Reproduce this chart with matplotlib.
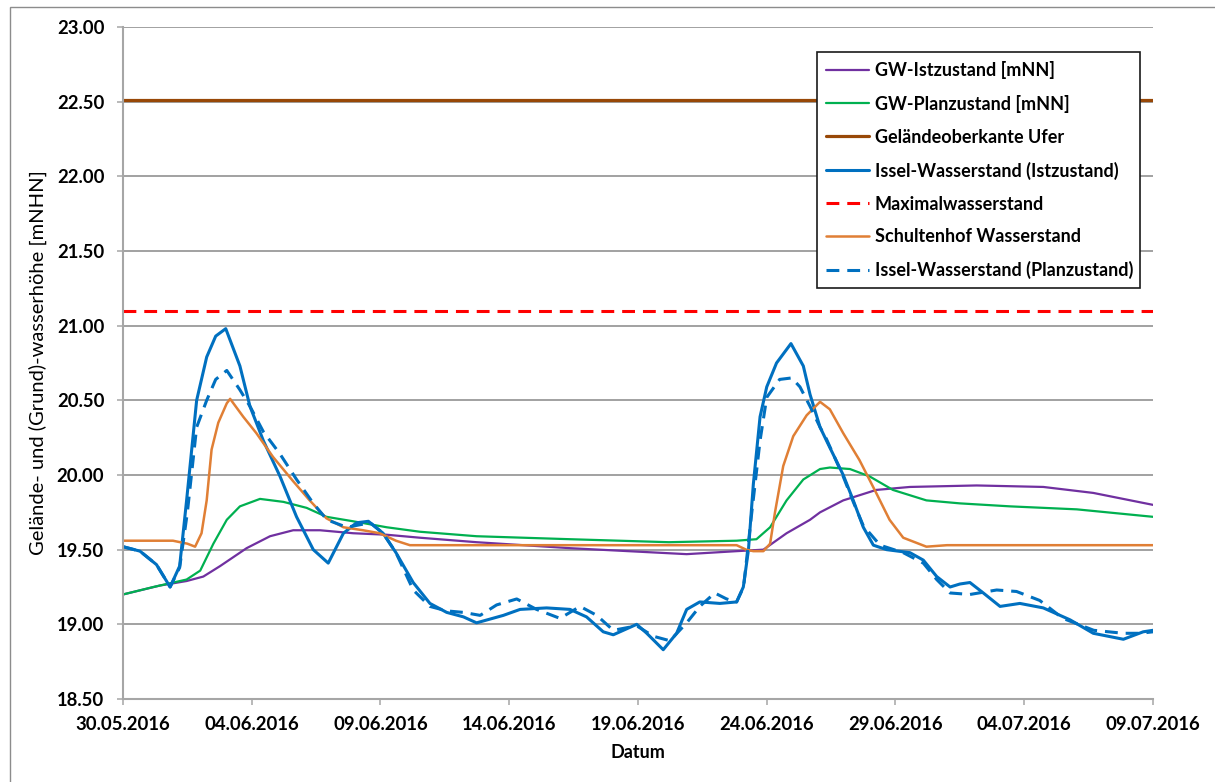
import matplotlib
matplotlib.use("Agg")
import matplotlib.pyplot as plt
import matplotlib.dates as mdates
import matplotlib.patches as mpatches
import numpy as np
import pandas as pd

plt.rcParams['font.family'] = ['Lato', 'DejaVu Sans']
plt.rcParams['lines.solid_joinstyle'] = 'round'
plt.rcParams['lines.dash_joinstyle'] = 'round'
plt.rcParams['lines.solid_capstyle'] = 'round'

START = pd.Timestamp("2016-05-30")

# ---- data (day offsets from 30.05.2016, water levels in mNHN) ----
gw_ist_days = [0, 1.44, 2.47, 3.12, 3.77, 4.8, 5.71, 6.61, 7.65, 8.94, 10.24, 11.53, 13.73,
               17.36, 21.89, 23.83, 24.87, 25.77, 26.68, 27.07, 27.97, 29.25, 30.56, 33.15,
               35.74, 37.68, 40]
gw_ist_vals = [19.20, 19.26, 19.29, 19.32, 19.39, 19.51, 19.59, 19.63, 19.63, 19.61, 19.60, 19.58,
               19.55, 19.51, 19.47, 19.49, 19.50, 19.61, 19.70, 19.75, 19.83, 19.90, 19.92, 19.93,
               19.92, 19.88, 19.80]

gw_plan_days = [0, 1.18, 2.47, 3.0, 3.51, 4.03, 4.54, 5.32, 6.23, 7.13, 7.9, 8.94, 10.24, 11.53,
                13.73, 17.36, 21.2, 23.83, 24.6, 25.13, 25.77, 26.42, 27.07, 27.45, 28.23, 29.0,
                29.9, 31.2, 32.5, 34.45, 37.04, 40]
gw_plan_vals = [19.20, 19.25, 19.30, 19.36, 19.54, 19.70, 19.79, 19.84, 19.82, 19.78, 19.72, 19.69,
                19.65, 19.62, 19.59, 19.57, 19.55, 19.56, 19.57, 19.65, 19.83, 19.97, 20.04, 20.05,
                20.04, 19.99, 19.90, 19.83, 19.81, 19.79, 19.77, 19.72]

gelaende_days = [0, 40]
gelaende_vals = [22.51, 22.51]

issel_ist_days = [0, 0.66, 1.3, 1.83, 2.2, 2.47, 2.86, 3.25, 3.6, 3.99, 4.54, 4.93, 5.45, 6.1,
                  6.74, 7.39, 7.97, 8.56, 9.07, 9.53, 10.1, 10.6, 11.27, 11.92, 12.57, 13.22,
                  13.73, 14.77, 15.42, 16.45, 17.36, 18.0, 18.65, 19.04, 19.56, 19.95, 20.34,
                  20.98, 21.5, 21.89, 22.4, 23.18, 23.83, 24.09, 24.29, 24.48, 24.74, 25.0,
                  25.38, 25.94, 26.42, 26.68, 27.07, 27.32, 27.97, 28.36, 28.75, 29.14, 29.66,
                  30.56, 31.08, 31.6, 32.12, 32.5, 32.89, 33.41, 34.06, 34.83, 35.74, 36.78,
                  37.68, 38.85, 39.62, 40]
issel_ist_vals = [19.52, 19.49, 19.40, 19.25, 19.39, 19.83, 20.50, 20.79, 20.93, 20.98, 20.73,
                  20.46, 20.23, 19.99, 19.72, 19.50, 19.41, 19.61, 19.68, 19.69, 19.61, 19.48,
                  19.28, 19.14, 19.08, 19.05, 19.01, 19.06, 19.10, 19.11, 19.10, 19.05, 18.95,
                  18.93, 18.97, 19.00, 18.94, 18.83, 18.94, 19.10, 19.15, 19.14, 19.15, 19.25,
                  19.50, 19.94, 20.39, 20.59, 20.75, 20.88, 20.73, 20.54, 20.32, 20.23, 20.00,
                  19.83, 19.65, 19.53, 19.50, 19.48, 19.43, 19.32, 19.25, 19.27, 19.28, 19.21,
                  19.12, 19.14, 19.11, 19.03, 18.94, 18.90, 18.95, 18.96]

max_days = [0, 40]
max_vals = [21.10, 21.10]

schulten_days = [0, 1.94, 2.5, 2.8, 3.05, 3.25, 3.44, 3.7, 4.03, 4.16, 4.67, 5.18, 5.83, 6.6,
                 7.25, 7.9, 8.56, 9.32, 9.97, 10.6, 11.14, 12, 23.83, 24.2, 24.48, 24.87, 25.13,
                 25.32, 25.64, 26.03, 26.55, 27.07, 27.45, 27.97, 28.6, 29.25, 29.77, 30.3,
                 31.2, 32, 40]
schulten_vals = [19.56, 19.56, 19.54, 19.52, 19.61, 19.83, 20.17, 20.35, 20.48, 20.51, 20.39,
                 20.28, 20.12, 19.96, 19.83, 19.71, 19.65, 19.63, 19.61, 19.56, 19.53, 19.53,
                 19.53, 19.50, 19.49, 19.49, 19.54, 19.75, 20.06, 20.26, 20.40, 20.49, 20.44,
                 20.28, 20.10, 19.88, 19.70, 19.58, 19.52, 19.53, 19.53]

issel_plan_days = [0, 0.66, 1.3, 1.83, 2.2, 2.5, 2.86, 3.25, 3.6, 4.03, 4.54, 4.93, 5.45, 6.1,
                   6.74, 7.39, 7.92, 8.69, 9.6, 10.1, 10.6, 11.27, 11.92, 12.57, 13.22, 13.87,
                   14.51, 15.29, 16.06, 16.97, 17.75, 18.4, 19.04, 19.95, 20.6, 21.24, 21.89,
                   22.4, 22.98, 23.44, 23.83, 24.1, 24.4, 24.74, 25.0, 25.5, 25.97, 26.29,
                   26.68, 27.07, 27.32, 27.97, 28.36, 28.75, 29.4, 30.3, 31.08, 31.6, 32.12,
                   32.89, 33.93, 34.7, 35.6, 36.5, 37.7, 38.85, 39.5, 40]
issel_plan_vals = [19.52, 19.49, 19.40, 19.25, 19.38, 19.75, 20.32, 20.50, 20.64, 20.70, 20.57,
                   20.46, 20.29, 20.14, 19.97, 19.81, 19.70, 19.65, 19.68, 19.61, 19.48, 19.23,
                   19.12, 19.09, 19.08, 19.06, 19.13, 19.17, 19.10, 19.04, 19.12, 19.06, 18.96,
                   18.99, 18.92, 18.89, 19.01, 19.12, 19.21, 19.17, 19.15, 19.25, 19.72, 20.23,
                   20.52, 20.64, 20.65, 20.59, 20.46, 20.32, 20.24, 19.99, 19.82, 19.66, 19.53,
                   19.48, 19.41, 19.30, 19.21, 19.20, 19.23, 19.22, 19.16, 19.04, 18.96, 18.94,
                   18.94, 18.95]

labels = ["GW-Istzustand [mNN]", "GW-Planzustand [mNN]", "Geländeoberkante Ufer",
          "Issel-Wasserstand (Istzustand)", "Maximalwasserstand", "Schultenhof Wasserstand",
          "Issel-Wasserstand (Planzustand)"]

y_ticks = [18.5, 19.0, 19.5, 20.0, 20.5, 21.0, 21.5, 22.0, 22.5, 23.0]


def to_dates(days):
    return START + pd.to_timedelta(np.asarray(days, dtype=float), unit="D")


fig = plt.figure(figsize=(12.15, 7.82), dpi=100)
ax = fig.add_axes([123 / 1215, 1 - 699 / 782, (1153 - 123) / 1215, (699 - 27) / 782])

ax.plot(to_dates(gw_ist_days), gw_ist_vals, color="#7030A0", lw=1.6, label=labels[0])
ax.plot(to_dates(gw_plan_days), gw_plan_vals, color="#00B050", lw=1.6, label=labels[1])
ax.plot(to_dates(gelaende_days), gelaende_vals, color="#984807", lw=2.3, label=labels[2])
ax.plot(to_dates(issel_ist_days), issel_ist_vals, color="#0070C0", lw=2.2, label=labels[3])
ax.plot(to_dates(max_days), max_vals, color="#FF0000", lw=2.2, ls=(0, (4.2, 2.6)), label=labels[4])
ax.plot(to_dates(schulten_days), schulten_vals, color="#E07F35", lw=1.8, label=labels[5])
ax.plot(to_dates(issel_plan_days), issel_plan_vals, color="#0070C0", lw=2.2, ls=(0, (4.2, 2.6)),
        label=labels[6])

ax.set_xlim(to_dates([0])[0], to_dates([40])[0])
ax.set_ylim(18.5, 23.0)
ax.set_yticks(y_ticks)
ax.yaxis.set_major_formatter(matplotlib.ticker.FormatStrFormatter("%.2f"))
ax.set_xticks(to_dates(np.arange(0, 41, 5)))
ax.xaxis.set_major_formatter(mdates.DateFormatter("%d.%m.%Y"))

ax.grid(axis="y", color="#878787", lw=1.1)
ax.set_axisbelow(True)
for s in ["top", "right"]:
    ax.spines[s].set_visible(False)
for s in ["left", "bottom"]:
    ax.spines[s].set_color("#A6A6A6")
    ax.spines[s].set_linewidth(1.5)

ax.tick_params(axis="both", colors="#A6A6A6", length=4.5, width=1.1, labelcolor="black",
               labelsize=13.3)
ax.tick_params(axis="y", pad=9)
ax.tick_params(axis="x", pad=8)
for t in ax.get_xticklabels() + ax.get_yticklabels():
    t.set_fontweight("bold")

ax.set_xlabel("Datum", fontsize=13, fontweight="bold", labelpad=8)
ax.set_ylabel("Gelände- und (Grund)-wasserhöhe [mNHN]", fontsize=14.5)
ax.yaxis.set_label_coords(-0.074, 0.5)

leg = ax.legend(loc="upper left", bbox_to_anchor=(0.674, 0.963, 0.313, 0.0), mode="expand",
                borderaxespad=0, handlelength=2.35, handletextpad=0.35,
                labelspacing=0.88, borderpad=0.5, fancybox=False, framealpha=1,
                prop={"weight": "bold", "size": 13})
leg.get_frame().set_edgecolor("#1a1a1a")
leg.get_frame().set_linewidth(1.2)

fig.patches.append(mpatches.Rectangle((10 / 1215, -0.1), 1.2, 1.1 - 7 / 782,
                                      transform=fig.transFigure, fill=False,
                                      ec="#8c8c8c", lw=1.0))

fig.savefig("out.png", dpi=100)
